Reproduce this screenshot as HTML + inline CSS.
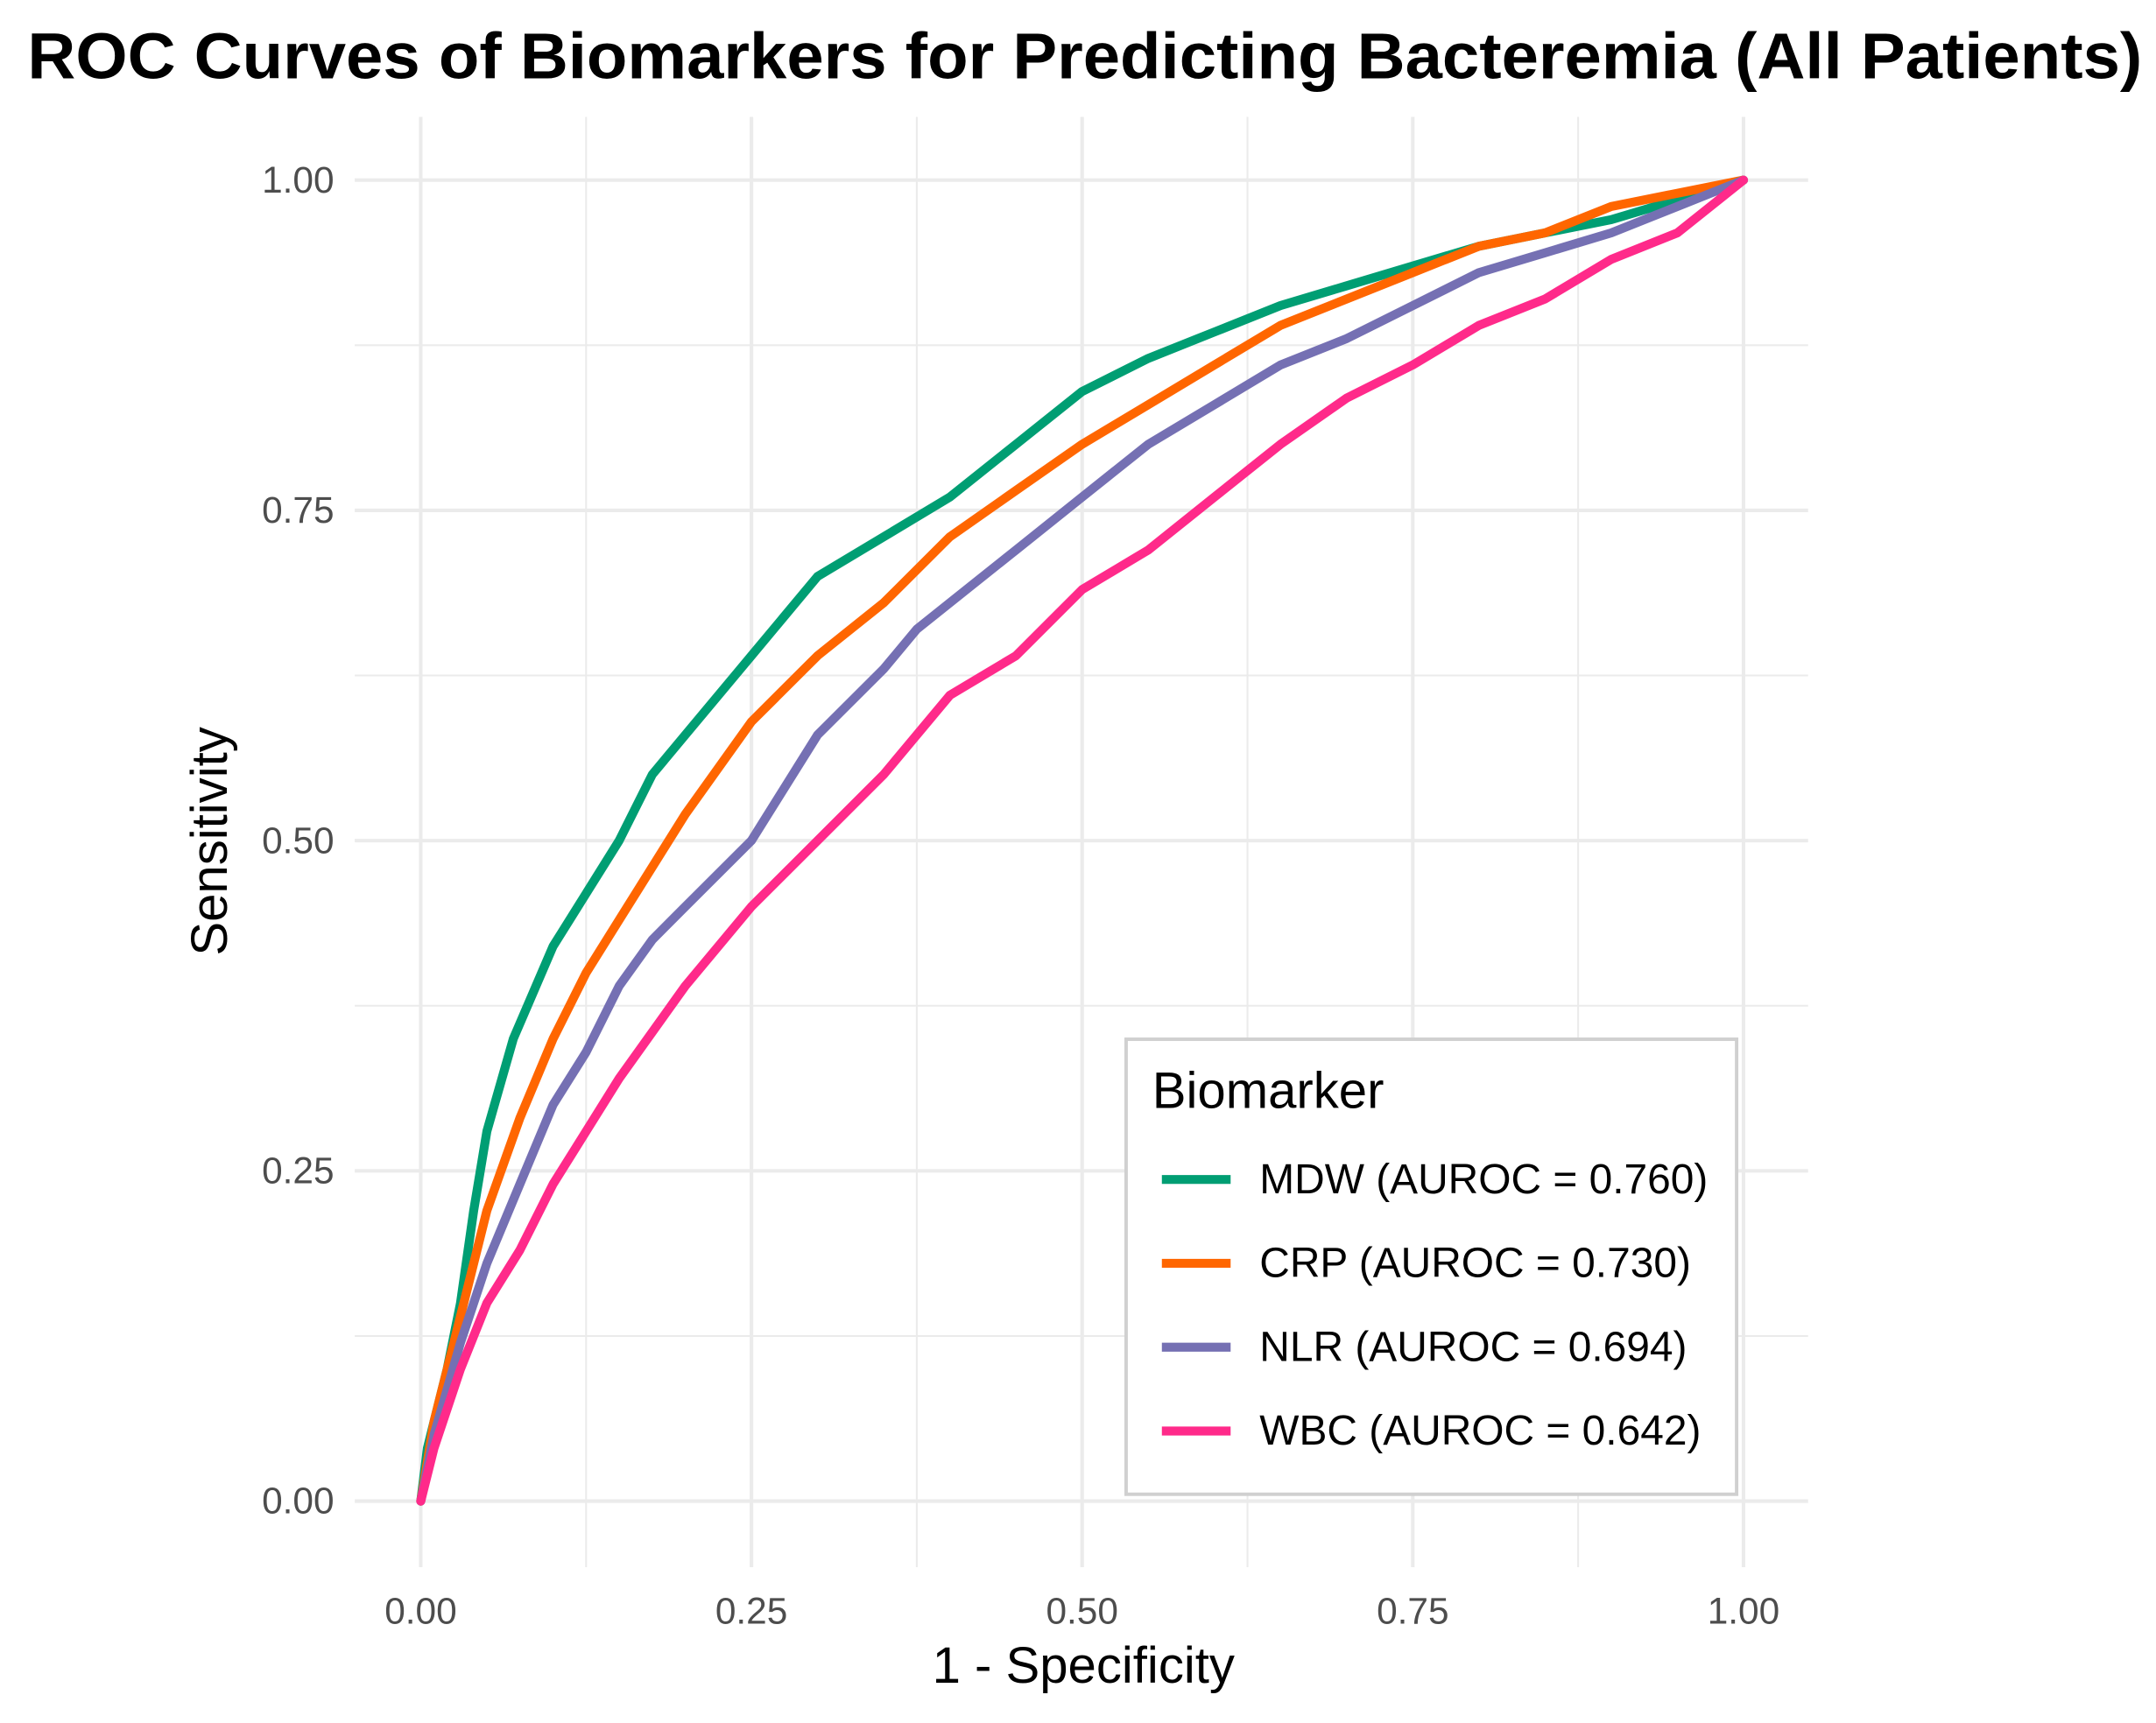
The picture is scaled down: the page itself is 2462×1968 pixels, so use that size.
<!DOCTYPE html>
<html><head><meta charset="utf-8"><style>
html,body{margin:0;padding:0;background:#fff;}
svg{display:block;font-family:"Liberation Sans",Arial,sans-serif;}
</style></head><body>
<svg id="chart" width="2462" height="1968" viewBox="0 0 1568 1253.4" xmlns="http://www.w3.org/2000/svg">
<rect width="1568" height="1253.4" fill="#fff"/>
<g id="grid"></g>
<g id="series"></g>
<g id="axes"></g>
<text x="789" y="57" text-anchor="middle" font-size="47" font-weight="bold" fill="#000" textLength="1538" lengthAdjust="spacingAndGlyphs">ROC Curves of Biomarkers for Predicting Bacteremia (All Patients)</text>
<text x="788" y="1224" text-anchor="middle" font-size="37" fill="#000">1 - Specificity</text>
<text transform="translate(165,612) rotate(-90)" text-anchor="middle" font-size="37" fill="#000">Sensitivity</text>
<g>
<rect x="819" y="756" width="444" height="331" fill="#fff" stroke="#d0d0d0" stroke-width="2.5"/>
<text x="838" y="806" font-size="37" fill="#000">Biomarker</text>
<g id="legend-entries"></g>
</g>
</svg>
<script>
const seriesNames = ["MDW (AUROC = 0.760)","CRP (AUROC = 0.730)","NLR (AUROC = 0.694)","WBC (AUROC = 0.642)"];
const seriesColors = ["#009E73","#FF6600","#7570B3","#FF2A8A"];
const mdwX = [0,0.005,0.02,0.03,0.04,0.05,0.07,0.1,0.125,0.15,0.175,0.2,0.25,0.3,0.35,0.4,0.45,0.5,0.55,0.6,0.65,0.7,0.75,0.8,0.85,0.9,0.95,1];
const mdwY = [0,0.04,0.1,0.15,0.22,0.28,0.35,0.42,0.46,0.5,0.55,0.58,0.64,0.7,0.73,0.76,0.8,0.84,0.865,0.885,0.905,0.92,0.935,0.95,0.96,0.97,0.985,1];
const crpX = [0,0.01,0.03,0.05,0.075,0.1,0.125,0.15,0.2,0.25,0.3,0.35,0.4,0.45,0.5,0.55,0.6,0.65,0.7,0.75,0.8,0.85,0.9,0.95,1];
const crpY = [0,0.06,0.14,0.22,0.29,0.35,0.4,0.44,0.52,0.59,0.64,0.68,0.73,0.765,0.8,0.83,0.86,0.89,0.91,0.93,0.95,0.96,0.98,0.99,1];
const nlrX = [0,0.01,0.03,0.05,0.075,0.1,0.125,0.15,0.175,0.2,0.25,0.3,0.35,0.375,0.4,0.45,0.5,0.55,0.6,0.65,0.7,0.75,0.8,0.85,0.9,0.95,1];
const nlrY = [0,0.05,0.12,0.18,0.24,0.3,0.34,0.39,0.425,0.45,0.5,0.58,0.63,0.66,0.68,0.72,0.76,0.8,0.83,0.86,0.88,0.905,0.93,0.945,0.96,0.98,1];
const wbcX = [0,0.01,0.03,0.05,0.075,0.1,0.125,0.15,0.2,0.25,0.3,0.35,0.4,0.45,0.5,0.55,0.6,0.65,0.7,0.75,0.8,0.85,0.9,0.95,1];
const wbcY = [0,0.04,0.1,0.15,0.19,0.24,0.28,0.32,0.39,0.45,0.5,0.55,0.61,0.64,0.69,0.72,0.76,0.8,0.835,0.86,0.89,0.91,0.94,0.96,1];
const tickValues = [0,0.25,0.5,0.75,1];
const tickLabels = ["0.00","0.25","0.50","0.75","1.00"];
const minorValues = [0.125,0.375,0.625,0.875];

const NS = "http://www.w3.org/2000/svg";
const sx = v => 306 + v * 962;
const sy = v => 1092 - v * 961;
function mk(tag, attrs, parent){const e=document.createElementNS(NS,tag);for(const k in attrs)e.setAttribute(k,attrs[k]);parent.appendChild(e);return e;}
const grid=document.getElementById('grid'), axes=document.getElementById('axes'), ser=document.getElementById('series');
const L=258,R=1315,T=85,B=1140;
minorValues.forEach(v=>{
  let a=mk('line',{x1:sx(v),x2:sx(v),y1:T,y2:B,stroke:'#ebebeb','stroke-width':1.3},grid);
  
  let b=mk('line',{x1:L,x2:R,y1:sy(v),y2:sy(v),stroke:'#ebebeb','stroke-width':1.3},grid);
  
});
tickValues.forEach((v,i)=>{
  let a=mk('line',{x1:sx(v),x2:sx(v),y1:T,y2:B,stroke:'#ebebeb','stroke-width':2.6},grid);
  
  let b=mk('line',{x1:L,x2:R,y1:sy(v),y2:sy(v),stroke:'#ebebeb','stroke-width':2.6},grid);
  
  let t=mk('text',{x:sx(v),y:1181,'text-anchor':'middle','font-size':27,fill:'#4d4d4d'},axes);t.textContent=tickLabels[i];
  
  let u=mk('text',{x:243,y:sy(v)+9,'text-anchor':'end','font-size':27,fill:'#4d4d4d'},axes);u.textContent=tickLabels[i];
  
});
const xs=[mdwX,crpX,nlrX,wbcX], ys=[mdwY,crpY,nlrY,wbcY], keys=['mdw','crp','nlr','wbc'];
xs.forEach((X,s)=>{
  const d=X.map((x,i)=>(i?'L':'M')+sx(x).toFixed(1)+','+sy(ys[s][i]).toFixed(1)).join('');
  const p=mk('path',{d:d,fill:'none',stroke:seriesColors[s],'stroke-width':6.5,'stroke-linejoin':'round','stroke-linecap':'round'},ser);
  
  
});
const le=document.getElementById('legend-entries');
seriesNames.forEach((n,i)=>{
  const y=858+i*61;
  const l=mk('line',{x1:845,x2:895,y1:y,y2:y,stroke:seriesColors[i],'stroke-width':6.5},le);
  
  
  const t=mk('text',{x:916,y:y+10,'font-size':30.5,fill:'#000'},le);t.textContent=n;
  
  
});
</script>
</body></html>
